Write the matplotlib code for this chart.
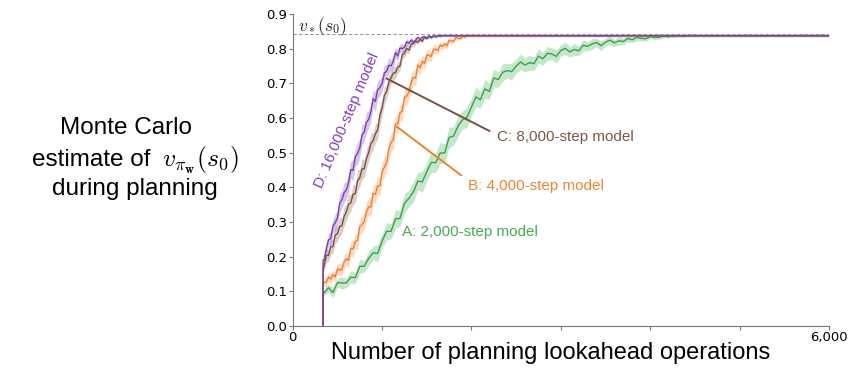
import numpy as np
import matplotlib
matplotlib.use("Agg")
import matplotlib.pyplot as plt

## Monte Carlo value estimate during planning
## curves all start at the same number of ops and end on the same plateau
start_ops = 340
plateau = 0.838
v_star = 0.843

# A: 2,000-step model, sampled every 50 ops from 350
green_y = [0.095, 0.11, 0.096, 0.125, 0.124, 0.124, 0.141, 0.139, 0.172, 0.172,
           0.195, 0.211, 0.209, 0.245, 0.273, 0.273, 0.309, 0.31, 0.354, 0.368,
           0.387, 0.418, 0.416, 0.445, 0.472, 0.471, 0.499, 0.499, 0.544, 0.548,
           0.577, 0.595, 0.602, 0.632, 0.661, 0.653, 0.684, 0.677, 0.716, 0.711,
           0.732, 0.737, 0.734, 0.75, 0.762, 0.753, 0.76, 0.757, 0.779, 0.771,
           0.787, 0.785, 0.778, 0.795, 0.801, 0.791, 0.798, 0.794, 0.81, 0.807,
           0.814, 0.818, 0.809, 0.819, 0.825, 0.817, 0.823, 0.821, 0.83, 0.826,
           0.833, 0.83, 0.829, 0.835, 0.833, 0.833, 0.837, 0.835, 0.837, 0.838,
           0.837, 0.838, 0.838, 0.838]
green_err = [0.008, 0.012, 0.015, 0.013, 0.017, 0.014, 0.018, 0.016, 0.02, 0.017,
             0.021, 0.019, 0.024, 0.02, 0.025, 0.022, 0.027, 0.023, 0.028, 0.024,
             0.029, 0.025, 0.03, 0.026, 0.03, 0.027, 0.031, 0.027, 0.03, 0.026,
             0.03, 0.026, 0.029, 0.025, 0.028, 0.024, 0.027, 0.023, 0.026, 0.022,
             0.025, 0.021, 0.024, 0.02, 0.023, 0.02, 0.022, 0.019, 0.021, 0.018,
             0.02, 0.017, 0.019, 0.016, 0.018, 0.015, 0.017, 0.014, 0.016, 0.013,
             0.015, 0.012, 0.014, 0.011, 0.013, 0.01, 0.012, 0.009, 0.011, 0.008,
             0.01, 0.007, 0.008, 0.006, 0.007, 0.005, 0.006, 0.004, 0.005, 0.004,
             0.004, 0.003, 0.003, 0.003]

# B: 4,000-step model, every 25 ops from 350
orange_y = [0.125, 0.125, 0.141, 0.135, 0.148, 0.141, 0.165, 0.161, 0.163, 0.185,
            0.194, 0.189, 0.224, 0.222, 0.243, 0.247, 0.287, 0.292, 0.302, 0.329,
            0.344, 0.343, 0.383, 0.38, 0.404, 0.404, 0.445, 0.458, 0.47, 0.511,
            0.529, 0.538, 0.583, 0.583, 0.615, 0.62, 0.659, 0.663, 0.675, 0.702,
            0.718, 0.715, 0.753, 0.745, 0.764, 0.757, 0.782, 0.781, 0.778, 0.798,
            0.799, 0.795, 0.811, 0.807, 0.814, 0.809, 0.825, 0.822, 0.822, 0.832,
            0.831, 0.829, 0.836, 0.834, 0.837, 0.838, 0.838]
orange_err = [0.01, 0.014, 0.012, 0.016, 0.013, 0.017, 0.015, 0.019, 0.016, 0.021,
              0.018, 0.023, 0.02, 0.025, 0.021, 0.026, 0.022, 0.027, 0.023, 0.028,
              0.024, 0.028, 0.024, 0.029, 0.025, 0.029, 0.025, 0.03, 0.026, 0.03,
              0.026, 0.029, 0.025, 0.028, 0.024, 0.027, 0.023, 0.026, 0.022, 0.025,
              0.021, 0.023, 0.019, 0.021, 0.017, 0.019, 0.015, 0.017, 0.013, 0.015,
              0.012, 0.013, 0.01, 0.011, 0.009, 0.01, 0.008, 0.008, 0.006, 0.007,
              0.005, 0.005, 0.004, 0.004, 0.003, 0.003, 0.003]

# C: 8,000-step model, every 25 ops from 350
brown_y = [0.17, 0.204, 0.203, 0.228, 0.229, 0.262, 0.266, 0.287, 0.289, 0.316,
           0.329, 0.351, 0.355, 0.38, 0.382, 0.419, 0.427, 0.453, 0.454, 0.483,
           0.501, 0.527, 0.535, 0.555, 0.565, 0.608, 0.629, 0.665, 0.676, 0.703,
           0.716, 0.73, 0.731, 0.747, 0.75, 0.783, 0.787, 0.801, 0.796, 0.813,
           0.816, 0.822, 0.819, 0.827, 0.822, 0.834, 0.83, 0.836, 0.832, 0.837,
           0.836, 0.838, 0.838]
brown_err = [0.012, 0.02, 0.017, 0.023, 0.019, 0.025, 0.021, 0.027, 0.022, 0.028,
             0.023, 0.029, 0.024, 0.03, 0.025, 0.03, 0.025, 0.03, 0.025, 0.029,
             0.024, 0.029, 0.024, 0.028, 0.023, 0.027, 0.022, 0.025, 0.02, 0.023,
             0.018, 0.02, 0.016, 0.017, 0.013, 0.014, 0.011, 0.012, 0.009, 0.01,
             0.008, 0.008, 0.006, 0.006, 0.005, 0.005, 0.004, 0.004, 0.003, 0.003,
             0.003, 0.003, 0.003]

# D: 16,000-step model, every 25 ops from 350
purple_y = [0.19, 0.222, 0.248, 0.252, 0.287, 0.298, 0.311, 0.354, 0.364, 0.385,
            0.392, 0.414, 0.451, 0.449, 0.488, 0.498, 0.513, 0.551, 0.559, 0.588,
            0.596, 0.619, 0.656, 0.648, 0.682, 0.688, 0.699, 0.73, 0.735, 0.752,
            0.751, 0.764, 0.789, 0.779, 0.802, 0.801, 0.804, 0.82, 0.816, 0.825,
            0.819, 0.825, 0.833, 0.827, 0.834, 0.834, 0.831, 0.837, 0.834, 0.837,
            0.834, 0.838, 0.836, 0.838, 0.838]
purple_err = [0.012, 0.02, 0.018, 0.024, 0.02, 0.026, 0.022, 0.028, 0.023, 0.029,
              0.024, 0.03, 0.025, 0.031, 0.026, 0.031, 0.026, 0.03, 0.025, 0.03,
              0.025, 0.029, 0.024, 0.028, 0.023, 0.026, 0.021, 0.024, 0.019, 0.022,
              0.017, 0.019, 0.015, 0.016, 0.012, 0.013, 0.01, 0.011, 0.008, 0.009,
              0.007, 0.007, 0.006, 0.006, 0.005, 0.005, 0.004, 0.004, 0.004, 0.003,
              0.003, 0.003, 0.003, 0.003, 0.003]

x_ticks = [0, 1000, 2000, 3000, 4000, 5000, 6000]
x_tick_labels = ["0", "", "", "", "", "", "6,000"]
y_ticks = [0.0, 0.1, 0.2, 0.3, 0.4, 0.5, 0.6, 0.7, 0.8, 0.9]

plt.rcParams["mathtext.fontset"] = "cm"

fig = plt.figure(figsize=(8.51, 3.72), dpi=100)
ax = fig.add_axes([0.344, 0.124, 0.630, 0.838])


def draw_curve(ys, errs, step, line_color, fill_color):
    ys = np.array(ys)
    errs = np.array(errs)
    xs = 350 + step * np.arange(len(ys))
    # vertical jump at the start and flat plateau to the end
    x_all = np.concatenate([[start_ops, start_ops], xs, [6000]])
    y_all = np.concatenate([[0.0, ys[0]], ys, [plateau]])
    e_all = np.concatenate([[0.0, 0.0], errs, [0.003]])
    ax.fill_between(x_all, y_all - e_all, y_all + e_all, color=fill_color,
                    lw=0, alpha=0.45)
    ax.plot(x_all, y_all, color=line_color, lw=1.0)


draw_curve(green_y, green_err, 50, "#3f9f4c", "#7cc98a")
draw_curve(orange_y, orange_err, 25, "#f0812c", "#f6ad78")
draw_curve(brown_y, brown_err, 25, "#7a5040", "#b09084")
draw_curve(purple_y, purple_err, 25, "#7a3fb2", "#a67fd0")

ax.axhline(v_star, color="#999999", lw=0.8, ls=(0, (3, 2)))
ax.text(60, 0.852, r"$v_*(s_0)$", fontsize=12.5, color="#222222")

lab_font = "Liberation Sans"
ax.annotate("C: 8,000-step model", xy=(1051, 0.714), xytext=(2290, 0.545),
            color="#7f5848", fontsize=11, family=lab_font, va="center",
            arrowprops=dict(arrowstyle="-", color="#7a5040", lw=1.4,
                            relpos=(0, 0.65), shrinkA=4, shrinkB=0))
ax.annotate("B: 4,000-step model", xy=(1164, 0.575), xytext=(1965, 0.405),
            color="#f0842f", fontsize=11, family=lab_font, va="center",
            arrowprops=dict(arrowstyle="-", color="#f0812c", lw=1.4,
                            relpos=(0, 0.85), shrinkA=4, shrinkB=0))
ax.text(1222, 0.272, "A: 2,000-step model", color="#48ac58", fontsize=11,
        family=lab_font, va="center")
ax.text(605, 0.592, "D: 16,000-step model", color="#8040c0", fontsize=11,
        family=lab_font, rotation=67, rotation_mode="anchor",
        ha="center", va="center")

ax.set_xlim(0, 6000)
ax.set_ylim(0, 0.9)
ax.set_xticks(x_ticks)
ax.set_xticklabels(x_tick_labels)
ax.set_yticks(y_ticks)
ax.set_yticklabels([f"{t:.1f}" for t in y_ticks])
ax.tick_params(labelsize=9.5, color="#777777", length=3, pad=1)
for side in ["top", "right"]:
    ax.spines[side].set_visible(False)
for side in ["left", "bottom"]:
    ax.spines[side].set_color("#777777")

ax.set_xlabel("Number of planning lookahead operations", fontsize=17,
              family=lab_font)
ax.xaxis.set_label_coords(0.481, -0.052)

# y label drawn as three pieces so the formula can be larger
fig.text(126 / 851, 1 - 128 / 372, "Monte Carlo", fontsize=17.5,
         family=lab_font, ha="center", va="center")
fig.text(150 / 851, 1 - 160 / 372, "estimate of", fontsize=17.5,
         family=lab_font, ha="right", va="center")
fig.text(162 / 851, 1 - 160 / 372, r"$v_{\pi_\mathbf{w}}(s_0)$", fontsize=18.5,
         ha="left", va="center")
fig.text(135 / 851, 1 - 189 / 372, "during planning", fontsize=17.5,
         family=lab_font, ha="center", va="center")

fig.savefig("out.png", dpi=100)
